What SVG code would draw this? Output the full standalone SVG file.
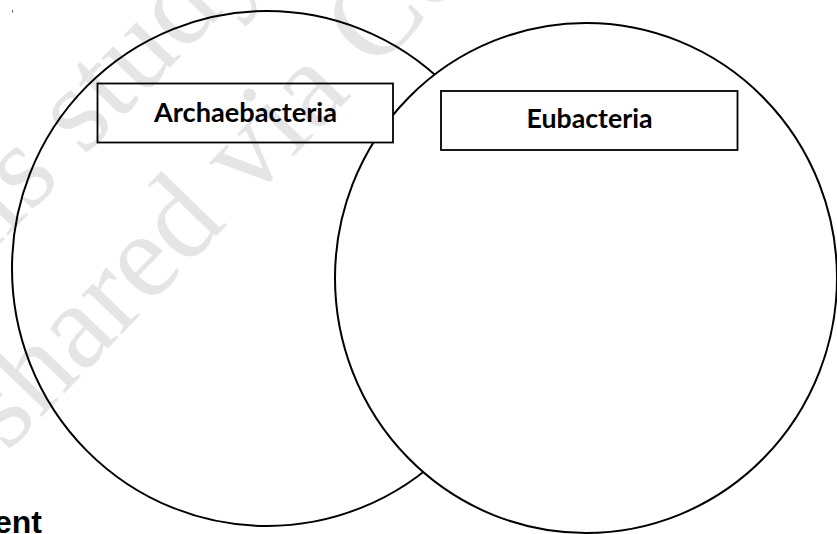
<svg xmlns="http://www.w3.org/2000/svg" width="837" height="534" viewBox="0 0 837 534">
  <style>
    .circle { fill: #ffffff; stroke: #000000; stroke-width: 2; }
    .box { fill: #ffffff; stroke: #000000; stroke-width: 1.8; }
    .label { font-family: Lato, "Liberation Sans", sans-serif; font-weight: bold; font-size: 26px; fill: #000000; text-anchor: middle; }
    .wm { font-family: "Liberation Serif", serif; font-size: 122px; fill: #000000; fill-opacity: 0.1; }
    .tail { font-family: "Liberation Sans", Arial, sans-serif; font-weight: bold; font-size: 32px; fill: #000000; }
  </style>
  <rect x="0" y="0" width="837" height="534" fill="#ffffff"/>
  <rect x="12" y="10" width="1" height="2.5" fill="#555555"/>
  <g id="set-archaebacteria-circle">
    <ellipse class="circle" cx="267" cy="268.5" rx="255" ry="257.5"/>
  </g>
  <g id="set-eubacteria-circle">
    <ellipse class="circle" cx="586" cy="278" rx="251" ry="255"/>
  </g>
  <g id="label-archaebacteria">
    <rect class="box" x="97.5" y="83.5" width="295.5" height="59"/>
    <text class="label" x="245.5" y="121.5" textLength="183" lengthAdjust="spacingAndGlyphs">Archaebacteria</text>
  </g>
  <g id="label-eubacteria">
    <rect class="box" x="441" y="91" width="296.5" height="59"/>
    <text class="label" x="589.5" y="127.5" textLength="126" lengthAdjust="spacingAndGlyphs">Eubacteria</text>
  </g>
  <g id="connectors"></g>
  <text class="tail" x="-6" y="533">ent</text>
  <g id="watermark">
    <text class="wm" transform="translate(-88 335) rotate(-46)">This study</text>
    <text class="wm" transform="translate(7 453) rotate(-46)">shared via Co</text>
  </g>
</svg>
